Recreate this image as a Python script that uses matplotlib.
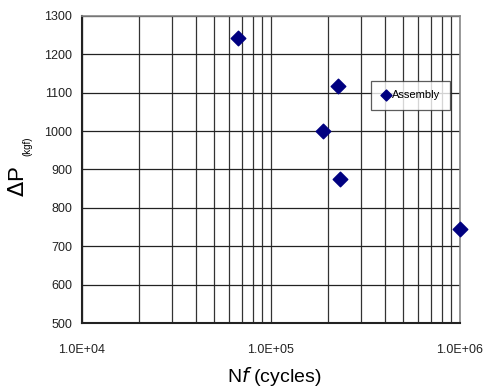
import matplotlib
matplotlib.use("Agg")
import matplotlib.pyplot as plt
from matplotlib.ticker import LogLocator, FixedLocator, NullFormatter

plt.rcParams['font.family'] = ['Liberation Sans', 'DejaVu Sans']

# data
cycles = [66900, 226000, 188000, 231700, 1000000]
load = [1243, 1118, 1000, 876, 745]

x_ticks = [1e4, 1e5, 1e6]
x_labels = ["1.0E+04", "1.0E+05", "1.0E+06"]
y_ticks = [500, 600, 700, 800, 900, 1000, 1100, 1200, 1300]

fig = plt.figure(figsize=(4.91, 3.91), dpi=100)
ax = fig.add_axes([82 / 491, 1 - 323 / 391, 378 / 491, 307 / 391])

ax.set_xscale('log')
ax.set_xlim(1e4, 1e6)
ax.set_ylim(500, 1300)

ax.xaxis.set_major_locator(FixedLocator(x_ticks))
ax.set_xticklabels(x_labels)
ax.xaxis.set_minor_locator(LogLocator(base=10, subs=range(2, 10)))
ax.xaxis.set_minor_formatter(NullFormatter())
ax.set_yticks(y_ticks)

ax.grid(True, which='both', axis='x', color='#333333', lw=0.9)
ax.grid(True, which='major', axis='y', color='#222222', lw=0.9)
ax.set_axisbelow(True)

ax.tick_params(axis='both', which='both', length=0, labelsize=9, colors='#222222')
ax.tick_params(axis='x', pad=15)
ax.tick_params(axis='y', pad=7)

for side in ['top', 'right']:
    ax.spines[side].set_color('#888888')
    ax.spines[side].set_linewidth(1.2)
for side in ['left', 'bottom']:
    ax.spines[side].set_color('#222222')
    ax.spines[side].set_linewidth(1.5)

ax.scatter(cycles, load, marker='D', s=55, color='#000080', zorder=5,
           label='Assembly', clip_on=False)

leg = ax.legend(loc='upper left', bbox_to_anchor=(0.765, 0.789), fontsize=8,
                frameon=True, fancybox=False, handletextpad=0.05,
                borderpad=0.85, handlelength=1.0, markerscale=0.75,
                borderaxespad=0)
leg.get_frame().set_edgecolor('#333333')
leg.get_frame().set_linewidth(0.9)

fig.text(274 / 491, 1 - 377 / 391, r'N$\it{f}$ (cycles)', fontsize=14,
         ha='center', va='center')
fig.text(19 / 491, 1 - 182 / 391, r'$\Delta$P', rotation=90, fontsize=16,
         ha='center', va='center')
fig.text(27 / 491, 1 - 146 / 391, '(kgf)', rotation=90, fontsize=7,
         ha='center', va='center')

fig.savefig('out.png', dpi=100)
